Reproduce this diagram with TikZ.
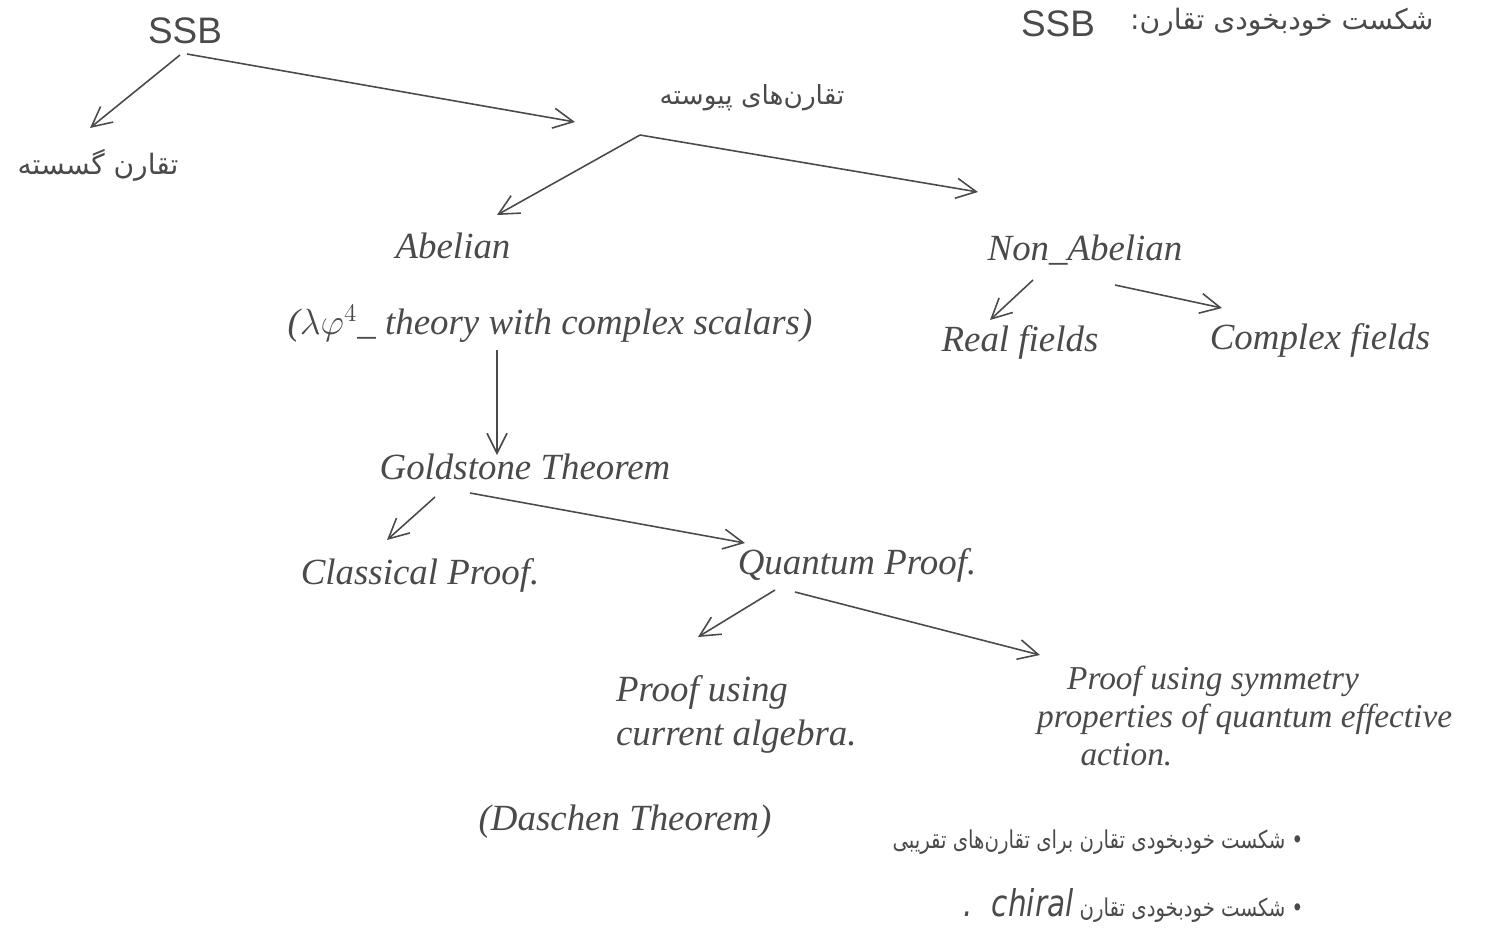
\documentclass[tikz,border=0pt]{standalone}
\usepackage{fontspec}
\usetikzlibrary{arrows.meta,calc}
\setmainfont{Liberation Serif}
\newfontfamily\fa[Script=Arabic]{DejaVu Sans}
\newfontfamily\ssbfont{Liberation Sans}
\TeXXeTstate=1
\definecolor{pencil}{HTML}{4A4A4A}
\tikzset{
  lbl/.style={text=pencil, font=\fontsize{21}{25}\selectfont\itshape, inner sep=1pt},
  ssb/.style={text=pencil, font=\fontsize{21}{25}\selectfont\ssbfont, inner sep=1pt},
  fatext/.style={text=pencil, font=\fontsize{16}{22}\selectfont\fa, inner sep=1pt},
  arr/.style={draw=pencil, line width=0.9pt, -{Straight Barb[length=4mm,width=4mm]}},
}
\begin{document}
\begin{tikzpicture}[x=0.02cm, y=-0.02cm]
\useasboundingbox (0,0) rectangle (1502,931);
% nodes
\node[ssb] (ssb) at (185,31) {SSB};
\node[fatext] (disc) at (98,165) {\beginR تقارن گسسته\endR};
\node[fatext, font=\fontsize{15}{18}\selectfont\fa] (cont) at (752,98) {\beginR تقارن‌های پیوسته\endR};
\node[lbl] (abel) at (453,246) {Abelian};
\node[lbl] (nonab) at (1085,250) {Non\_Abelian};
\node[lbl] (lphi) at (550,324) {($\lambda\varphi^4$\_ theory with complex scalars)};
\node[lbl] (real) at (1020,342) {Real fields};
\node[lbl] (cplx) at (1320,340) {Complex fields};
\node[lbl] (gold) at (525,467) {Goldstone Theorem};
\node[lbl] (class) at (420,575) {Classical Proof.};
\node[lbl] (quant) at (857,565) {Quantum Proof.};
\node[lbl, align=left, anchor=west] (curr) at (614,714) {Proof using\\current algebra.};
\node[lbl, align=left, anchor=west, font=\fontsize{19}{21.5}\selectfont\itshape] (symm) at (1035,716) {\hspace*{0.9em}Proof using symmetry\\properties of quantum effective\\\hspace*{1.3em}action.};
\node[lbl] (dasch) at (625,822) {(Daschen Theorem)};
\node[ssb] (ssb2) at (1058,24) {SSB};
\node[fatext, anchor=west] (title) at (1128,22) {\beginR شکست خودبخودی تقارن:\endR};
\node[fatext, anchor=east, xscale=0.8, font=\fontsize{14}{18}\selectfont\fa] (b1) at (1305,842) {\beginR • شکست خودبخودی تقارن برای تقارن‌های تقریبی\endR};
\node[fatext, anchor=east, xscale=0.8, font=\fontsize{14}{18}\selectfont\fa] (b2) at (1305,905) {\beginR • شکست خودبخودی تقارن \beginL\itshape\fontsize{21}{25}\selectfont\ chiral\endL{} .\endR};
% anchor coordinates for free ends
\coordinate (s1) at (180,55);
\coordinate (s2) at (187,54);
\coordinate (c0) at (640,135);
\coordinate (n1) at (1033,280);
\coordinate (n2) at (1115,285);
\coordinate (l0) at (497,350);
\coordinate (g1) at (435,497);
\coordinate (g2) at (470,493);
\coordinate (q1) at (775,590);
\coordinate (q2) at (795,592);
% connectors
\draw[arr] (s1) -- (90,128);
\draw[arr] (s2) -- (575,122);
\draw[arr] (c0) -- (497,215);
\draw[arr] (c0) -- (978,192);
\draw[arr] (n1) -- (990,320);
\draw[arr] (n2) -- (1222,308);
\draw[arr] (l0) -- (497,455);
\draw[arr] (g1) -- (387,540);
\draw[arr] (g2) -- (745,543);
\draw[arr] (q1) -- (698,637);
\draw[arr] (q2) -- (1040,655);
\end{tikzpicture}
\end{document}
